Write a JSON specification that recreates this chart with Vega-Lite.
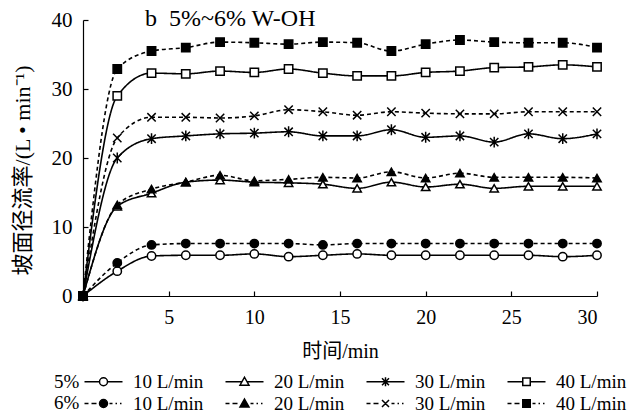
{
  "$schema": "https://vega.github.io/schema/vega-lite/v6.json",
  "width": 514,
  "height": 276,
  "autosize": {"type": "none"},
  "padding": {"left": 83, "top": 20, "right": 33, "bottom": 118},
  "background": "white",
  "title": {"text": "b\u00a0\u00a05%~6% W-OH", "anchor": "start", "frame": "group", "dx": 62, "offset": -41, "baseline": "alphabetic", "fontSize": 24, "font": "Liberation Serif", "fontWeight": "normal", "color": "black"},
  "datasets": {
    "d": [
      {"s": "5% 10 L/min", "t": 0, "v": 0}, {"s": "5% 10 L/min", "t": 2, "v": 3.6}, {"s": "5% 10 L/min", "t": 4, "v": 5.8}, {"s": "5% 10 L/min", "t": 6, "v": 5.9}, {"s": "5% 10 L/min", "t": 8, "v": 5.9}, {"s": "5% 10 L/min", "t": 10, "v": 6.1}, {"s": "5% 10 L/min", "t": 12, "v": 5.7}, {"s": "5% 10 L/min", "t": 14, "v": 5.9}, {"s": "5% 10 L/min", "t": 16, "v": 6.1}, {"s": "5% 10 L/min", "t": 18, "v": 5.9}, {"s": "5% 10 L/min", "t": 20, "v": 5.9}, {"s": "5% 10 L/min", "t": 22, "v": 5.9}, {"s": "5% 10 L/min", "t": 24, "v": 5.9}, {"s": "5% 10 L/min", "t": 26, "v": 5.9}, {"s": "5% 10 L/min", "t": 28, "v": 5.7}, {"s": "5% 10 L/min", "t": 30, "v": 5.9},
      {"s": "5% 20 L/min", "t": 0, "v": 0}, {"s": "5% 20 L/min", "t": 2, "v": 13.0}, {"s": "5% 20 L/min", "t": 4, "v": 14.9}, {"s": "5% 20 L/min", "t": 6, "v": 16.5}, {"s": "5% 20 L/min", "t": 8, "v": 16.8}, {"s": "5% 20 L/min", "t": 10, "v": 16.5}, {"s": "5% 20 L/min", "t": 12, "v": 16.4}, {"s": "5% 20 L/min", "t": 14, "v": 16.2}, {"s": "5% 20 L/min", "t": 16, "v": 15.6}, {"s": "5% 20 L/min", "t": 18, "v": 16.5}, {"s": "5% 20 L/min", "t": 20, "v": 15.8}, {"s": "5% 20 L/min", "t": 22, "v": 16.2}, {"s": "5% 20 L/min", "t": 24, "v": 15.6}, {"s": "5% 20 L/min", "t": 26, "v": 15.9}, {"s": "5% 20 L/min", "t": 28, "v": 15.9}, {"s": "5% 20 L/min", "t": 30, "v": 15.9},
      {"s": "5% 30 L/min", "t": 0, "v": 0}, {"s": "5% 30 L/min", "t": 2, "v": 20.0}, {"s": "5% 30 L/min", "t": 4, "v": 22.8}, {"s": "5% 30 L/min", "t": 6, "v": 23.2}, {"s": "5% 30 L/min", "t": 8, "v": 23.5}, {"s": "5% 30 L/min", "t": 10, "v": 23.6}, {"s": "5% 30 L/min", "t": 12, "v": 23.8}, {"s": "5% 30 L/min", "t": 14, "v": 23.2}, {"s": "5% 30 L/min", "t": 16, "v": 23.2}, {"s": "5% 30 L/min", "t": 18, "v": 24.1}, {"s": "5% 30 L/min", "t": 20, "v": 23.0}, {"s": "5% 30 L/min", "t": 22, "v": 23.2}, {"s": "5% 30 L/min", "t": 24, "v": 22.3}, {"s": "5% 30 L/min", "t": 26, "v": 23.5}, {"s": "5% 30 L/min", "t": 28, "v": 22.8}, {"s": "5% 30 L/min", "t": 30, "v": 23.5},
      {"s": "5% 40 L/min", "t": 0, "v": 0}, {"s": "5% 40 L/min", "t": 2, "v": 29.0}, {"s": "5% 40 L/min", "t": 4, "v": 32.3}, {"s": "5% 40 L/min", "t": 6, "v": 32.2}, {"s": "5% 40 L/min", "t": 8, "v": 32.6}, {"s": "5% 40 L/min", "t": 10, "v": 32.4}, {"s": "5% 40 L/min", "t": 12, "v": 32.9}, {"s": "5% 40 L/min", "t": 14, "v": 32.3}, {"s": "5% 40 L/min", "t": 16, "v": 31.9}, {"s": "5% 40 L/min", "t": 18, "v": 31.9}, {"s": "5% 40 L/min", "t": 20, "v": 32.4}, {"s": "5% 40 L/min", "t": 22, "v": 32.6}, {"s": "5% 40 L/min", "t": 24, "v": 33.1}, {"s": "5% 40 L/min", "t": 26, "v": 33.2}, {"s": "5% 40 L/min", "t": 28, "v": 33.5}, {"s": "5% 40 L/min", "t": 30, "v": 33.2},
      {"s": "6% 10 L/min", "t": 0, "v": 0}, {"s": "6% 10 L/min", "t": 2, "v": 4.8}, {"s": "6% 10 L/min", "t": 4, "v": 7.4}, {"s": "6% 10 L/min", "t": 6, "v": 7.6}, {"s": "6% 10 L/min", "t": 8, "v": 7.6}, {"s": "6% 10 L/min", "t": 10, "v": 7.6}, {"s": "6% 10 L/min", "t": 12, "v": 7.6}, {"s": "6% 10 L/min", "t": 14, "v": 7.4}, {"s": "6% 10 L/min", "t": 16, "v": 7.6}, {"s": "6% 10 L/min", "t": 18, "v": 7.6}, {"s": "6% 10 L/min", "t": 20, "v": 7.6}, {"s": "6% 10 L/min", "t": 22, "v": 7.6}, {"s": "6% 10 L/min", "t": 24, "v": 7.6}, {"s": "6% 10 L/min", "t": 26, "v": 7.6}, {"s": "6% 10 L/min", "t": 28, "v": 7.6}, {"s": "6% 10 L/min", "t": 30, "v": 7.6},
      {"s": "6% 20 L/min", "t": 0, "v": 0}, {"s": "6% 20 L/min", "t": 2, "v": 13.2}, {"s": "6% 20 L/min", "t": 4, "v": 15.5}, {"s": "6% 20 L/min", "t": 6, "v": 16.5}, {"s": "6% 20 L/min", "t": 8, "v": 17.5}, {"s": "6% 20 L/min", "t": 10, "v": 16.7}, {"s": "6% 20 L/min", "t": 12, "v": 16.9}, {"s": "6% 20 L/min", "t": 14, "v": 17.2}, {"s": "6% 20 L/min", "t": 16, "v": 17.1}, {"s": "6% 20 L/min", "t": 18, "v": 18.0}, {"s": "6% 20 L/min", "t": 20, "v": 17.1}, {"s": "6% 20 L/min", "t": 22, "v": 17.8}, {"s": "6% 20 L/min", "t": 24, "v": 17.2}, {"s": "6% 20 L/min", "t": 26, "v": 17.2}, {"s": "6% 20 L/min", "t": 28, "v": 17.2}, {"s": "6% 20 L/min", "t": 30, "v": 17.1},
      {"s": "6% 30 L/min", "t": 0, "v": 0}, {"s": "6% 30 L/min", "t": 2, "v": 22.9}, {"s": "6% 30 L/min", "t": 4, "v": 25.9}, {"s": "6% 30 L/min", "t": 6, "v": 25.9}, {"s": "6% 30 L/min", "t": 8, "v": 25.8}, {"s": "6% 30 L/min", "t": 10, "v": 26.1}, {"s": "6% 30 L/min", "t": 12, "v": 27.0}, {"s": "6% 30 L/min", "t": 14, "v": 26.7}, {"s": "6% 30 L/min", "t": 16, "v": 26.2}, {"s": "6% 30 L/min", "t": 18, "v": 26.7}, {"s": "6% 30 L/min", "t": 20, "v": 26.5}, {"s": "6% 30 L/min", "t": 22, "v": 26.4}, {"s": "6% 30 L/min", "t": 24, "v": 26.4}, {"s": "6% 30 L/min", "t": 26, "v": 26.7}, {"s": "6% 30 L/min", "t": 28, "v": 26.7}, {"s": "6% 30 L/min", "t": 30, "v": 26.7},
      {"s": "6% 40 L/min", "t": 0, "v": 0}, {"s": "6% 40 L/min", "t": 2, "v": 32.9}, {"s": "6% 40 L/min", "t": 4, "v": 35.5}, {"s": "6% 40 L/min", "t": 6, "v": 36.0}, {"s": "6% 40 L/min", "t": 8, "v": 36.8}, {"s": "6% 40 L/min", "t": 10, "v": 36.7}, {"s": "6% 40 L/min", "t": 12, "v": 36.5}, {"s": "6% 40 L/min", "t": 14, "v": 36.8}, {"s": "6% 40 L/min", "t": 16, "v": 36.7}, {"s": "6% 40 L/min", "t": 18, "v": 35.5}, {"s": "6% 40 L/min", "t": 20, "v": 36.5}, {"s": "6% 40 L/min", "t": 22, "v": 37.1}, {"s": "6% 40 L/min", "t": 24, "v": 36.8}, {"s": "6% 40 L/min", "t": 26, "v": 36.7}, {"s": "6% 40 L/min", "t": 28, "v": 36.7}, {"s": "6% 40 L/min", "t": 30, "v": 36.0}
    ]
  },
  "data": {"name": "d"},
  "encoding": {
    "x": {"field": "t", "type": "quantitative", "scale": {"domain": [0, 30], "nice": false},
      "axis": {"title": "时间/min", "values": [5, 10, 15, 20, 25, 30], "titlePadding": 14, "labelFontSize": 20}},
    "y": {"field": "v", "type": "quantitative", "scale": {"domain": [0, 40], "nice": false},
      "axis": {"title": "坡面径流率/(L • min⁻¹)", "values": [0, 10, 20, 30, 40], "titlePadding": 17, "titleY": 150, "labelFontSize": 21, "titleFontSize": 22}}
  },
  "layer": [
    {
      "mark": {"type": "line", "interpolate": "monotone", "color": "black", "strokeWidth": 1.6},
      "encoding": {
        "detail": {"field": "s", "type": "nominal"},
        "strokeDash": {"field": "s", "type": "nominal",
          "scale": {"domain": ["5% 10 L/min", "5% 20 L/min", "5% 30 L/min", "5% 40 L/min", "6% 10 L/min", "6% 20 L/min", "6% 30 L/min", "6% 40 L/min"],
            "range": [[1, 0], [1, 0], [1, 0], [1, 0], [4, 3], [4, 3], [4, 3], [4, 3]]},
          "legend": null}
      }
    },
    {
      "mark": {"type": "point", "filled": true, "stroke": "black", "strokeWidth": 1.5, "size": 70, "opacity": 1},
      "encoding": {
        "shape": {"field": "s", "type": "nominal",
          "scale": {"domain": ["5% 10 L/min", "5% 20 L/min", "5% 30 L/min", "5% 40 L/min", "6% 10 L/min", "6% 20 L/min", "6% 30 L/min", "6% 40 L/min"],
            "range": ["circle", "triangle-up", "M-1,-1L1,1M-1,1L1,-1M0,-1.3L0,1.3", "square", "circle", "triangle-up", "M-1,-1L1,1M-1,1L1,-1", "square"]},
          "legend": null},
        "fill": {"field": "s", "type": "nominal",
          "scale": {"domain": ["5% 10 L/min", "5% 20 L/min", "5% 30 L/min", "5% 40 L/min", "6% 10 L/min", "6% 20 L/min", "6% 30 L/min", "6% 40 L/min"],
            "range": ["white", "white", "white", "white", "black", "black", "black", "black"]},
          "legend": null}
      }
    },
    {
      "transform": [{"filter": "false"}],
      "mark": {"type": "point", "filled": true, "stroke": "black", "strokeWidth": 1.5, "opacity": 1},
      "encoding": {
        "shape": {"field": "s", "type": "nominal",
          "scale": {"domain": ["5% 10 L/min", "5% 20 L/min", "5% 30 L/min", "5% 40 L/min", "6% 10 L/min", "6% 20 L/min", "6% 30 L/min", "6% 40 L/min"],
            "range": [
              "M-3.8,0L-0.8,0M0.8,0L3.8,0M-0.8,0A0.8,0.8 0 1,0 0.8,0A0.8,0.8 0 1,0 -0.8,0Z",
              "M-3.8,0L-0.5,0M0.5,0L3.8,0M0,-0.9L0.9,0.7L-0.9,0.7Z",
              "M-3.8,0L3.8,0M-0.7,-0.7L0.7,0.7M-0.7,0.7L0.7,-0.7M0,-0.9L0,0.9",
              "M-3.8,0L-0.75,0M0.75,0L3.8,0M-0.75,-0.75L0.75,-0.75L0.75,0.75L-0.75,0.75Z",
              "M-3.8,0L-3,0M-2.4,0L-1.4,0M1.2,0L1.8,0M2.4,0L2.7,0M3.3,0L3.6,0M-0.8,0A0.8,0.8 0 1,0 0.8,0A0.8,0.8 0 1,0 -0.8,0Z",
              "M-3.8,0L-3,0M-2.4,0L-1.4,0M1.2,0L1.8,0M2.4,0L2.7,0M3.3,0L3.6,0M0,-0.9L0.9,0.7L-0.9,0.7Z",
              "M-3.8,0L-3,0M-2.4,0L-1.4,0M1.2,0L1.8,0M2.4,0L2.7,0M3.3,0L3.6,0M-0.7,-0.7L0.7,0.7M-0.7,0.7L0.7,-0.7",
              "M-3.8,0L-3,0M-2.4,0L-1.4,0M1.2,0L1.8,0M2.4,0L2.7,0M3.3,0L3.6,0M-0.75,-0.75L0.75,-0.75L0.75,0.75L-0.75,0.75Z"
            ]},
          "legend": {
            "title": ["5%", "6%"], "orient": "bottom", "direction": "horizontal", "columns": 4, "offset": 11,
            "labelExpr": "slice(datum.label, 3)", "labelFont": "Liberation Serif", "labelFontSize": 19, "labelColor": "black",
            "titleFont": "Liberation Serif", "titleFontSize": 19, "titleFontWeight": "normal", "titleColor": "black",
            "titleOrient": "left", "titleLineHeight": 21, "titlePadding": 11,
            "symbolSize": 100, "symbolOffset": 3, "labelOffset": 20, "columnPadding": 18, "rowPadding": 2,
            "encode": {"symbols": {"update": {"stroke": {"value": "black"}, "strokeWidth": {"value": 1.5}, "opacity": {"value": 1}}}}
          }},
        "fill": {"field": "s", "type": "nominal",
          "scale": {"domain": ["5% 10 L/min", "5% 20 L/min", "5% 30 L/min", "5% 40 L/min", "6% 10 L/min", "6% 20 L/min", "6% 30 L/min", "6% 40 L/min"],
            "range": ["white", "white", "white", "white", "black", "black", "black", "black"]},
          "legend": {
            "title": ["5%", "6%"], "orient": "bottom", "direction": "horizontal", "columns": 4, "offset": 11,
            "labelExpr": "slice(datum.label, 3)", "labelFont": "Liberation Serif", "labelFontSize": 19, "labelColor": "black",
            "titleFont": "Liberation Serif", "titleFontSize": 19, "titleFontWeight": "normal", "titleColor": "black",
            "titleOrient": "left", "titleLineHeight": 21, "titlePadding": 11,
            "symbolSize": 100, "symbolOffset": 3, "labelOffset": 20, "columnPadding": 18, "rowPadding": 2,
            "encode": {"symbols": {"update": {"stroke": {"value": "black"}, "strokeWidth": {"value": 1.5}, "opacity": {"value": 1}}}}
          }}
      }
    }
  ],
  "resolve": {"scale": {"shape": "independent", "fill": "independent", "strokeDash": "independent"}},
  "config": {
    "view": {"stroke": null},
    "font": "Liberation Serif, Noto Sans CJK SC",
    "axis": {
      "labelFont": "Liberation Serif, Noto Sans CJK SC",
      "titleFont": "Liberation Serif, Noto Sans CJK SC",
      "labelFontSize": 20,
      "titleFontSize": 20,
      "titleFontWeight": "normal",
      "labelColor": "black",
      "titleColor": "black",
      "domainColor": "black",
      "domainWidth": 1.2,
      "tickColor": "black",
      "tickWidth": 1.2,
      "tickSize": -5,
      "labelPadding": 16,
      "grid": false
    },
    "legend": {
      "layout": {"bottom": {"anchor": "middle"}}
    }
  }
}
